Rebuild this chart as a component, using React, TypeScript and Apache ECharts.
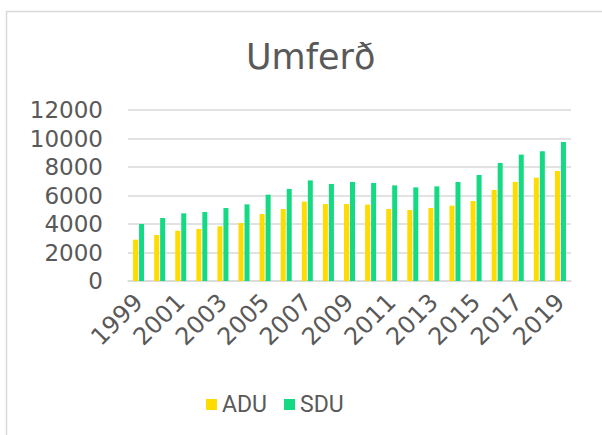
import React, { useEffect, useRef } from "react";
import * as echarts from "echarts";

const years = ["1999","2000","2001","2002","2003","2004","2005","2006","2007","2008","2009","2010","2011","2012","2013","2014","2015","2016","2017","2018","2019"];
const adu = [2900,3230,3530,3650,3840,4070,4700,5050,5570,5400,5400,5360,5050,4980,5120,5290,5610,6390,6950,7250,7720];
const sdu = [4000,4420,4750,4840,5120,5380,6060,6460,7060,6810,6950,6880,6710,6570,6640,6950,7440,8280,8870,9100,9750];

const axisFont = "'DejaVu Sans', sans-serif";

export default function App() {
  const ref = useRef<HTMLDivElement>(null);
  useEffect(() => {
    if (!ref.current) return;
    const chart = echarts.init(ref.current, null, { renderer: "svg" });
    chart.setOption({
      animation: false,
      backgroundColor: "#ffffff",
      graphic: [
        {
          type: "rect",
          shape: { x: 6.5, y: 11.5, width: 800, height: 800 },
          style: { fill: "none", stroke: "#d9d9d9", lineWidth: 1.5 },
          silent: true,
        },
      ],
      title: {
        text: "Umferð",
        left: 241,
        top: 34,
        textStyle: { fontFamily: axisFont, fontSize: 35, fontWeight: "normal", color: "#595959" },
      },
      legend: {
        left: 201,
        top: 388,
        itemWidth: 11,
        itemHeight: 11,
        itemGap: 17,
        icon: "rect",
        textStyle: { fontFamily: "Roboto, sans-serif", fontSize: 23, color: "#595959" },
        data: ["ADU", "SDU"],
      },
      grid: { left: 128, right: 31, top: 110, bottom: 154 },
      xAxis: {
        type: "category",
        data: years,
        axisLine: { lineStyle: { color: "#d9d9d9", width: 1.5 } },
        axisTick: { show: false },
        axisLabel: {
          interval: 1,
          rotate: 45,
          margin: 17,
          fontFamily: axisFont,
          fontSize: 24,
          color: "#595959",
        },
      },
      yAxis: {
        type: "value",
        min: 0,
        max: 12000,
        interval: 2000,
        axisLine: { show: false },
        axisTick: { show: false },
        splitLine: { lineStyle: { color: "#d9d9d9", width: 1.5 } },
        axisLabel: {
          margin: 25,
          fontFamily: axisFont,
          fontSize: 23,
          color: "#595959",
          formatter: (v: number) => String(v),
        },
      },
      series: [
        { name: "ADU", type: "bar", data: adu, barWidth: 5, barGap: "20%", itemStyle: { color: "#FFDC00" } },
        { name: "SDU", type: "bar", data: sdu, barWidth: 5, barGap: "20%", itemStyle: { color: "#14DA83" } },
      ],
    });
    return () => chart.dispose();
  }, []);
  return <div ref={ref} style={{ position: "fixed", left: 0, top: 0, width: 602, height: 435 }} />;
}
